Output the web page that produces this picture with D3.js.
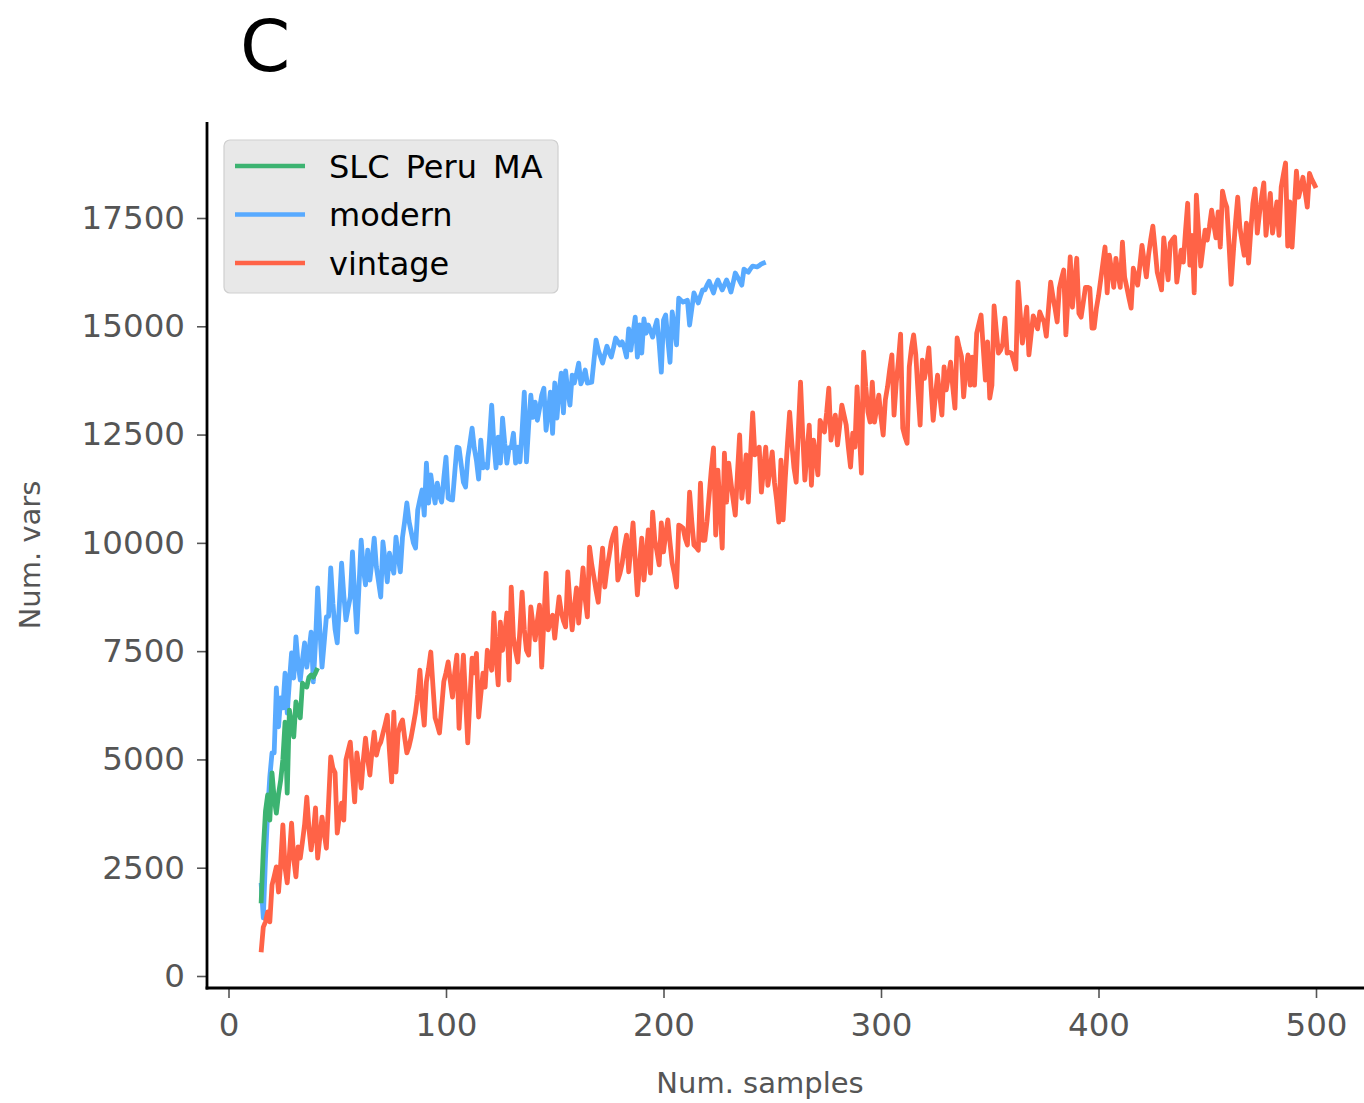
<!DOCTYPE html>
<html><head><meta charset="utf-8">
<script src="https://cdn.jsdelivr.net/npm/d3@7"></script>
<style>body{margin:0;background:#fff} svg{display:block;font-family:"DejaVu Sans",sans-serif}</style>
</head><body><svg id="c" width="1364" height="1103"></svg>
<script>
const seriesNames = ["SLC Peru MA", "modern", "vintage"];
const seriesColors = ["#3cb371", "#58aaff", "#ff6347"];

const slcStart = 15;
const slcVars = [1680, 2900, 3800, 4180, 3600, 4690, 4100, 3760, 4200, 4520, 5000, 5860, 4220, 6140, 5800, 5520, 6330, 6100, 5960, 6760, 6700, 6670, 6900, 6950, 6900, 7000, 7110];

const modernStart = 15;
const modernVars = [
2150, 1340, 2700, 3800, 4600, 5150, 5150, 6650, 5750, 6420, 6190,
6990, 6070, 6800, 7460, 6880, 7830, 7200, 6830, 7300,
7690, 7130, 7500, 7940, 6790, 7700, 8960, 8000, 7130, 7700,
8290, 8300, 9420, 8600, 8000, 7690, 8600, 9530, 8800, 8220,
8500, 8750, 9790, 8800, 7940, 9000, 10060, 9400, 9030, 9830,
9140, 9600, 10110, 9440, 9100, 8750, 10020, 9600, 9100, 9760,
9500, 9300, 10130, 9700, 9330, 10130, 10500, 10920, 10500, 10250,
10000, 9880, 10760, 11000, 11220, 10640, 11840, 10920, 11570, 11200,
10920, 11380, 11100, 10940, 11500, 11980, 11030, 11000, 10990, 11600,
12210, 12190, 11800, 11400, 11290, 11960, 12300, 12650, 12190, 11900,
11470, 12370, 11730, 11800, 11730, 12400, 13180, 12300, 11730, 12440,
11840, 12880, 12300, 11840, 12200, 12200, 12530, 11840, 12210, 11870,
12600, 13480, 11870, 12700, 13410, 12900, 13250, 12830, 13100, 13410,
13570, 12600, 13000, 13480, 12530, 13690, 12880, 13500, 13920, 13000,
13970, 13500, 13180, 13870, 13690, 13900, 14150, 13670, 13800, 13990,
13690, 13700, 13710, 14200, 14680, 14450, 14300, 14150, 14350, 14540,
14400, 14290, 14500, 14730, 14650, 14570, 14640, 14500, 14290, 14940,
14450, 14840, 15210, 14290, 15030, 14380, 15170, 14840, 15030, 14900,
14750, 14960, 15140, 14600, 13940, 15140, 15260, 14680, 14170, 15330,
15000, 14570, 15650, 15600, 15560, 15580, 15600, 15030, 15400, 15770,
15650, 15540, 15700, 15840, 15840, 15950, 16040, 15900, 15770, 15950,
16070, 15950, 15840, 15950, 16070, 15950, 15790, 16000, 16230, 16140,
16050, 15950, 16320, 16280, 16250, 16330, 16390, 16380, 16370, 16400,
16440, 16460, 16480];

const vintageStart = 15;
const vintageVars = [
550, 1130, 1250, 1480, 1250, 2100, 2300, 2520, 1940, 2600,
3490, 2500, 2150, 2800, 3530, 2700, 2290, 2980, 2720, 3100,
3500, 4130, 3400, 2910, 3300, 3880, 2720, 3200, 3670, 3300,
2950, 4000, 5060, 4800, 4690, 3300, 3700, 3990, 3600, 4990,
5200, 5400, 4700, 4020, 5150, 4800, 4340, 5000, 5490, 5000,
4640, 5200, 5630, 5100, 5300, 5400, 5600, 5800, 6020, 5200,
4480, 6090, 4710, 5610, 5800, 5910, 5500, 5150, 5300, 5520,
5800, 6090, 6500, 7060, 6300, 5790, 6790, 7100, 7480, 6700,
5960, 5800, 5610, 6200, 6800, 7000, 7250, 6800, 6440, 7000,
7410, 5720, 6600, 7410, 6400, 5380, 6400, 7340, 7000, 7450,
5980, 6500, 6990, 6670, 7520, 7300, 7060, 8380, 7400, 6720,
8170, 7520, 7900, 8380, 6830, 8980, 7830, 7500, 7250, 8000,
8860, 8000, 7520, 7410, 8520, 8100, 7760, 8200, 8560, 7130,
8200, 9300, 7990, 8200, 8330, 7800, 8300, 8750, 8400, 8200,
8060, 9330, 8600, 7990, 8500, 8960, 8150, 8800, 9420, 8700,
8290, 9900, 9500, 9210, 8900, 8630, 9300, 9880, 8980, 9400,
9700, 10020, 10200, 10340, 9140, 9300, 9530, 9900, 10180, 9330,
9900, 10460, 9600, 8800, 9500, 10110, 9140, 9700, 10300, 9300,
10710, 10060, 9800, 9490, 10460, 9790, 10200, 10530, 10000, 9530,
9300, 8980, 10410, 10380, 10340, 10100, 9950, 11170, 10500, 9950,
9900, 9830, 11380, 10060, 10060, 10500, 11100, 11700, 12190, 10180,
11680, 10800, 9880, 12070, 10940, 11840, 11400, 11000, 10640, 11600,
12490, 11030, 11500, 12030, 10940, 12000, 13000, 12030, 12100, 12210,
11170, 11700, 12210, 11330, 11700, 12100, 11400, 11000, 10480, 11910,
10530, 11500, 12300, 13020, 12300, 11730, 11400, 12600, 13710, 12500,
11450, 12100, 12720, 11330, 12370, 12000, 11570, 12830, 12700, 12560,
13000, 13570, 12370, 12700, 12950, 12260, 12700, 13180, 12950, 12720,
12200, 11750, 12530, 12210, 13600, 12600, 11610, 14400, 13600, 13020,
12790, 13710, 12790, 13100, 13410, 12900, 12490, 13300, 13600, 14000,
14340, 12950, 13690, 14200, 14820, 12650, 12450, 12300, 14060, 14500,
14800, 14340, 13500, 12720, 14220, 13800, 14100, 14500, 13600, 12830,
13400, 13870, 13400, 12950, 14060, 13530, 13850, 14170, 13600, 13110,
14730, 14500, 14300, 13370, 14000, 14340, 13640, 14290, 13640, 14840,
15050, 15260, 14500, 13760, 14640, 13340, 13640, 15470, 14900, 14380,
14450, 14600, 15190, 14380, 14400, 14380, 14200, 14010, 16020, 15300,
14610, 15000, 15440, 14340, 14800, 15240, 15100, 14940, 15330, 15200,
15100, 14770, 15400, 16020, 15700, 15420, 15100, 15880, 16100, 16300,
14800, 15700, 16600, 15440, 16000, 16570, 15300, 15210, 15550, 15900,
15900, 15880, 14960, 14960, 15400, 15700, 16070, 16450, 16830, 15770,
16640, 16300, 15900, 16570, 16200, 15900, 16940, 16140, 15900, 15650,
15420, 16340, 16150, 15950, 16400, 16870, 16500, 16140, 16640, 17000,
17310, 16800, 16250, 16050, 15840, 17040, 16550, 16070, 16920, 17000,
17060, 16020, 16400, 16760, 16480, 17200, 17840, 16410, 17100, 15770,
18030, 17200, 16390, 16800, 17220, 16990, 17300, 17680, 17350, 17040,
17640, 16830, 18120, 17900, 17750, 16900, 15970, 16700, 17400, 17980,
17290, 16950, 16640, 17380, 16460, 17200, 17840, 18170, 17150, 17600,
17980, 18310, 17100, 17600, 18070, 17150, 17500, 17870, 17100, 18210,
18500, 18770, 16850, 17870, 16830, 17700, 18580, 17980, 18200, 18440,
18100, 17750, 18530, 18400, 18300, 18190];

const xTicks = [0, 100, 200, 300, 400, 500];
const yTicks = [0, 2500, 5000, 7500, 10000, 12500, 15000, 17500];
const xLabel = "Num. samples";
const yLabel = "Num. vars";
const panelTitle = "C";

const svg = d3.select("#c");
const x = d3.scaleLinear().domain([0, 500]).range([228.5, 1316]);
const y = d3.scaleLinear().domain([0, 17500]).range([976, 218]);
const xLo = x.invert(207), xHi = x.invert(1364);
const yLo = y.invert(988), yHi = y.invert(122);

// axes
const xAxis = d3.axisBottom(x).tickValues(xTicks).tickSize(10).tickPadding(15).tickFormat(d3.format("d"));
const gx = svg.append("g").attr("transform", `translate(0,${y(yLo)})`).call(xAxis);
const yAxis = d3.axisLeft(y).tickValues(yTicks).tickSize(10).tickPadding(12).tickFormat(d3.format("d"));
const gy = svg.append("g").attr("transform", `translate(${x(xLo)},0)`).call(yAxis);
[gx, gy].forEach(g => {
  g.select(".domain").remove();
  g.selectAll(".tick line").attr("stroke", "#555").attr("stroke-width", 1.6);
  g.selectAll(".tick text").attr("fill", "#555").style("font-size", "32.5px").style("font-family", "DejaVu Sans");
});

// series
const line = start => d3.line().x((d, i) => x(start + i)).y(d => y(d));
const series = [
  {vals: modernVars, start: modernStart, color: seriesColors[1]},
  {vals: slcVars, start: slcStart, color: seriesColors[0]},
  {vals: vintageVars, start: vintageStart, color: seriesColors[2]}
];
series.forEach(s => {
  svg.append("path").datum(s.vals).attr("d", line(s.start))
    .attr("fill", "none").attr("stroke", s.color).attr("stroke-width", 4.8)
    .attr("stroke-linejoin", "round").attr("stroke-linecap", "butt");
});

// spines
svg.append("line").attr("x1", x(xLo)).attr("x2", x(xLo)).attr("y1", y(yHi)).attr("y2", y(yLo) + 1.5)
  .attr("stroke", "#000").attr("stroke-width", 2.8);
svg.append("line").attr("x1", x(xLo) - 1.4).attr("x2", x(xHi)).attr("y1", y(yLo)).attr("y2", y(yLo))
  .attr("stroke", "#000").attr("stroke-width", 2.8);

// labels
svg.append("text").attr("x", 760).attr("y", 1093).attr("text-anchor", "middle")
  .attr("fill", "#555").style("font-size", "29px").text(xLabel);
svg.append("text").attr("transform", "translate(40,555) rotate(-90)").attr("text-anchor", "middle")
  .attr("fill", "#555").style("font-size", "29px").text(yLabel);
svg.append("text").attr("x", 240).attr("y", 71).attr("fill", "#000").style("font-size", "72px").text(panelTitle);

// legend
const lg = svg.append("g");
lg.append("rect").attr("x", 224).attr("y", 140).attr("width", 334).attr("height", 153).attr("rx", 6)
  .attr("fill", "#e8e8e8").attr("stroke", "#cfcfcf").attr("stroke-width", 1.2);
seriesNames.forEach((n, i) => {
  const cy = 166 + i * 48.5;
  lg.append("line").attr("x1", 235).attr("x2", 305).attr("y1", cy).attr("y2", cy)
    .attr("stroke", seriesColors[i]).attr("stroke-width", 4.5);
  lg.append("text").attr("x", 329).attr("y", cy + 11.5).attr("fill", "#000")
    .style("font-size", "32px").style("word-spacing", "6px").text(n);
});
</script></body></html>
